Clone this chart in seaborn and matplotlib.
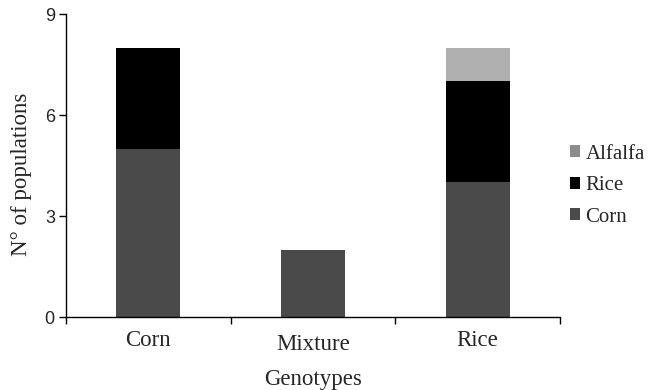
import matplotlib
matplotlib.use("Agg")
import matplotlib.pyplot as plt
import matplotlib.transforms as mtransforms
import seaborn as sns
import numpy as np
import pandas as pd
from matplotlib.patches import Patch

genotypes = ["Corn", "Mixture", "Rice"]
corn = [5, 2, 4]
rice = [3, 0, 3]
alfalfa = [0, 0, 1]
series_names = ["Alfalfa", "Rice", "Corn"]
colors = {"Corn": "#4a4a4a", "Rice": "#000000", "Alfalfa": "#b0b0b0"}
yticks = [0, 3, 6, 9]

sns.set_theme(style="white")
plt.rcParams["font.family"] = ["Liberation Serif", "DejaVu Serif"]

fig = plt.figure(figsize=(6.5, 3.9), dpi=100)
ax = fig.add_axes([0.1015, 0.187, 0.76, 0.777])

c1 = np.array(corn)
c2 = c1 + np.array(rice)
c3 = c2 + np.array(alfalfa)
layers = [("Alfalfa", c3), ("Rice", c2), ("Corn", c1)]
for name, vals in layers:
    df = pd.DataFrame({"g": genotypes, "v": vals})
    sns.barplot(data=df, x="g", y="v", color=colors[name], saturation=1,
                width=0.39, ax=ax, edgecolor="none", linewidth=0)

ax.set_xlim(-0.5, 2.5)
ax.set_ylim(0, 9)
ax.set_yticks(yticks)
ax.set_yticklabels([str(t) for t in yticks], family=["Liberation Sans", "DejaVu Sans"], fontsize=13)
ax.set_xticks([-0.5, 0.5, 1.5, 2.5])
ax.set_xticklabels([])
ax.set_xticks([0, 1, 2], minor=True)
ax.set_xticklabels(genotypes, minor=True, fontsize=16.5)
ax.tick_params(axis="x", which="minor", length=0, pad=9)
ax.tick_params(axis="x", which="major", length=5, width=1, direction="out", color="black", bottom=True)
ax.tick_params(axis="y", length=5, width=1, direction="out", color="black", left=True, pad=3)
for s in ["top", "right"]:
    ax.spines[s].set_visible(False)
for s in ["left", "bottom"]:
    ax.spines[s].set_color("black")
    ax.spines[s].set_linewidth(1)

# Mixture label sits slightly lower in the reference
lab = ax.get_xticklabels(minor=True)[1]
lab.set_transform(lab.get_transform() + mtransforms.ScaledTranslation(0, -3 / 72, fig.dpi_scale_trans))

ax.set_xlabel("Genotypes", fontsize=16.5)
ax.xaxis.set_label_coords(0.5, -0.17)
ax.set_ylabel("N° of populations", fontsize=16.5)
ax.yaxis.set_label_coords(-0.068, 0.47)

handles = [Patch(facecolor=colors[n] if n != "Alfalfa" else "#8c8c8c", edgecolor="none") for n in series_names]
ax.legend(handles, series_names, loc="center left", bbox_to_anchor=(1.02, 0.434),
          frameon=False, fontsize=15, handlelength=0.5, handleheight=0.5,
          handletextpad=0.25, labelspacing=0.6, borderpad=0, borderaxespad=0)

fig.savefig("out.png", dpi=100)
